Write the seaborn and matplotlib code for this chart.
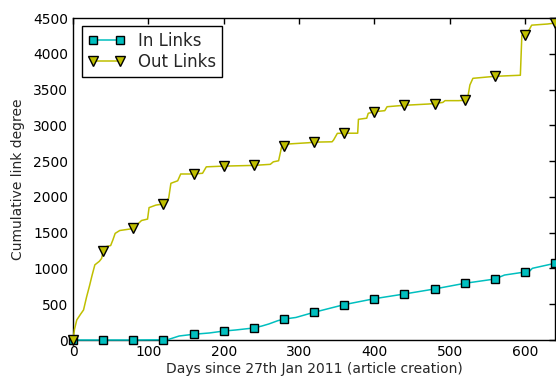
import matplotlib
matplotlib.use("Agg")
import matplotlib.pyplot as plt
import seaborn as sns
import pandas as pd

# Out-links cumulative degree (days, value)
out_days = [0, 2, 5, 10, 14, 18, 22, 25, 29, 35, 38, 40, 42, 50, 53, 56, 62, 75, 80,
            88, 91, 99, 101, 110, 113, 120, 127, 130, 139, 143, 160, 172, 177, 200,
            240, 262, 266, 273, 277, 280, 287, 313, 320, 344, 346, 351, 360, 378, 379,
            390, 392, 400, 414, 417, 440, 472, 480, 491, 494, 512, 520, 524, 527, 531,
            555, 560, 594, 596, 600, 606, 609, 630, 640]
out_vals = [0, 150, 280, 360, 420, 600, 760, 890, 1050, 1100, 1140, 1240, 1300, 1320,
            1400, 1490, 1530, 1550, 1560, 1640, 1670, 1690, 1850, 1885, 1890, 1900,
            1980, 2190, 2225, 2320, 2320, 2330, 2420, 2430, 2440, 2455, 2490, 2505,
            2700, 2710, 2740, 2757, 2765, 2770, 2795, 2888, 2890, 2890, 3084, 3100,
            3168, 3190, 3205, 3260, 3280, 3298, 3305, 3320, 3345, 3345, 3350, 3378,
            3564, 3657, 3680, 3685, 3700, 4260, 4265, 4340, 4400, 4416, 4430]

# In-links cumulative degree (days, value)
in_days = [0, 40, 80, 120, 126, 141, 160, 181, 200, 216, 240, 251, 260, 272, 280,
           296, 320, 360, 400, 440, 480, 520, 560, 573, 600, 606, 610, 640]
in_vals = [0, 0, 0, 3, 5, 56, 80, 98, 125, 140, 168, 196, 224, 270, 292, 315, 387,
           494, 577, 643, 713, 792, 852, 908, 950, 960, 1002, 1072]

marker_step = 40
x_ticks = [0, 100, 200, 300, 400, 500, 600]
y_ticks = [0, 500, 1000, 1500, 2000, 2500, 3000, 3500, 4000, 4500]

sns.set_style("white")
plt.rcParams["font.family"] = ["DejaVu Sans"]

fig = plt.figure(figsize=(5.56, 3.77), dpi=100)
ax = fig.add_axes([73 / 556, 37 / 377, 482 / 556, 322 / 377])

df_in = pd.DataFrame({"day": in_days, "val": in_vals})
df_out = pd.DataFrame({"day": out_days, "val": out_vals})
in_mark = [i for i, d in enumerate(in_days) if d % marker_step == 0]
out_mark = [i for i, d in enumerate(out_days) if d % marker_step == 0]

sns.lineplot(data=df_in, x="day", y="val", ax=ax, color="#00bfbf", lw=1.1,
             marker="s", markersize=6.3, markeredgecolor="black", markeredgewidth=1,
             markevery=in_mark, label="In Links", clip_on=False, zorder=3)
sns.lineplot(data=df_out, x="day", y="val", ax=ax, color="#bfbf00", lw=1.1,
             marker="v", markersize=7, markeredgecolor="black", markeredgewidth=1,
             markevery=out_mark, label="Out Links", clip_on=False, zorder=3)

ax.set_xlim(0, 640)
ax.set_ylim(0, 4500)
ax.set_xticks(x_ticks)
ax.set_yticks(y_ticks)
ax.tick_params(direction="in", top=True, right=True, length=4, width=1,
               labelsize=10, colors="black")
for s in ax.spines.values():
    s.set_color("black")
    s.set_linewidth(1)
ax.set_xlabel("Days since 27th Jan 2011 (article creation)", fontsize=10, labelpad=2)
ax.set_ylabel("Cumulative link degree", fontsize=10, labelpad=6)

leg = ax.legend(loc="upper left", numpoints=2, fancybox=False, fontsize=12,
                edgecolor="black", framealpha=1, handlelength=2.2,
                borderpad=0.35, labelspacing=0.2, handletextpad=0.8,
                borderaxespad=0, bbox_to_anchor=(0.019, 0.975))
leg.get_frame().set_linewidth(1)

fig.savefig("out.png", dpi=100)
